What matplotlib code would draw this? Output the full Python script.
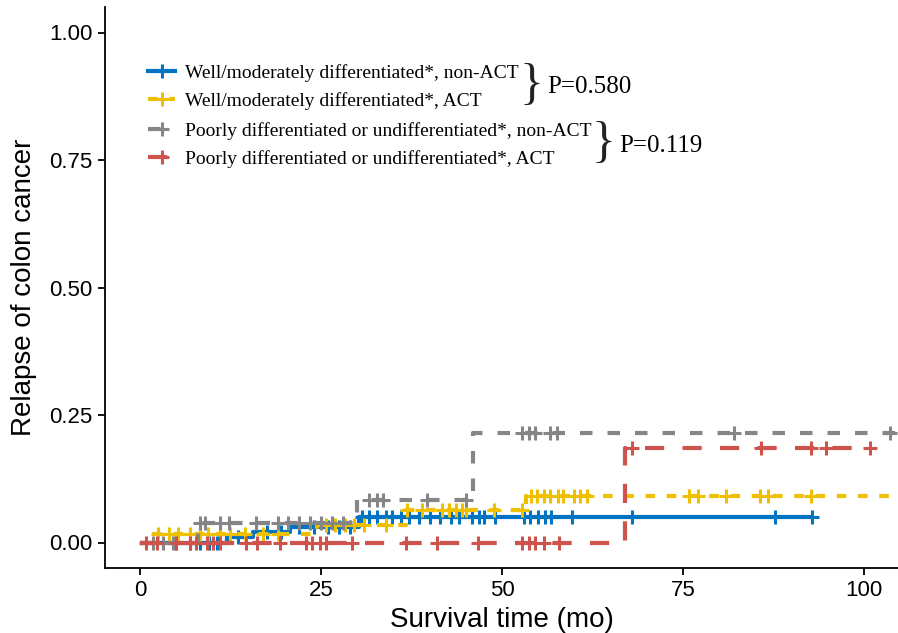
import numpy as np
import matplotlib.pyplot as plt
from matplotlib.lines import Line2D

# Kaplan-Meier style cumulative relapse curves (step start times and levels)
blue_times = [0, 12.0, 15.6, 20.7, 30.3]
blue_risk = [0, 0.011, 0.021, 0.030, 0.050]
blue_end = 92.8
blue_cens = [5.0, 6.9, 8.3, 9.6, 10.6, 13.5, 17.5, 19.5, 22.0, 24.0, 26.0, 27.5, 29.0,
             30.7, 31.7, 32.8, 34.0, 34.8, 36.1, 37.2, 38.5, 40.0, 41.5, 43.0, 44.1,
             45.9, 46.8, 47.5, 49.0, 53.0, 53.9, 55.0, 55.9, 56.8, 59.7, 67.9, 87.7, 92.8]

yellow_times = [0, 1.5, 24.5, 36.7, 53.3]
yellow_risk = [0, 0.017, 0.034, 0.063, 0.091]
yellow_end = 106
yellow_cens = [2.5, 4.0, 5.2, 6.9, 8.3, 9.4, 11.0, 12.5, 14.5, 17.0, 19.0, 25.7, 27.0,
               28.3, 29.5, 31.0, 34.0, 36.9, 39.0, 41.7, 42.7, 43.7, 44.5, 45.0, 48.9,
               52.8, 54.0, 54.9, 55.8, 56.7, 57.7, 58.4, 59.9, 60.8, 61.8, 75.9, 77.1,
               81.0, 85.7, 86.8, 92.7]

gray_times = [0, 8.0, 30.0, 46.0]
gray_risk = [0, 0.038, 0.084, 0.215]
gray_end = 106
gray_cens = [1.8, 3.2, 4.5, 8.3, 9.0, 11.0, 12.3, 16.0, 19.0, 20.5, 22.0, 23.5, 25.0,
             26.5, 28.0, 31.7, 32.8, 33.5, 39.7, 45.0, 52.7, 53.7, 54.6, 56.7, 57.6,
             82.0, 103.6]

red_times = [0, 67.0]
red_risk = [0, 0.186]
red_end = 100.8
red_cens = [0.9, 2.3, 5.0, 6.9, 7.8, 9.2, 10.1, 11.0, 14.7, 16.1, 19.3, 23.0, 23.8,
            24.8, 25.7, 29.3, 36.7, 41.0, 46.7, 52.7, 53.7, 54.6, 55.8, 57.9, 68.0,
            85.8, 92.7, 94.8, 100.8]

labels = [
    "Well/moderately differentiated*, non-ACT",
    "Well/moderately differentiated*, ACT",
    "Poorly differentiated or undifferentiated*, non-ACT",
    "Poorly differentiated or undifferentiated*, ACT",
]
p_values = ["P=0.580", "P=0.119"]

colors = ["#0073C2", "#EFC000", "#868686", "#CD534C"]
dashes = [None, (2.3, 2.8), (3.0, 3.6), (4.6, 4.4)]

curves = [
    (blue_times, blue_risk, blue_end, blue_cens),
    (yellow_times, yellow_risk, yellow_end, yellow_cens),
    (gray_times, gray_risk, gray_end, gray_cens),
    (red_times, red_risk, red_end, red_cens),
]

fig = plt.figure(figsize=(8.98, 6.33), dpi=100)
ax = fig.add_axes([105 / 898, 65 / 633, 793 / 898, 561 / 633])

LW = 3.0
handles = []
for (t, r, end, cens), c, d, lab in zip(curves, colors, dashes, labels):
    xs = list(t) + [end]
    ys = list(r) + [r[-1]]
    kw = dict(color=c, lw=LW, solid_capstyle="butt", dash_capstyle="butt")
    line, = ax.step(xs, ys, where="post", **kw)
    if d is not None:
        line.set_dashes(d)
    idx = np.searchsorted(t, cens, side="right") - 1
    cy = np.asarray(r)[idx]
    ax.plot(cens, cy, ls="none", marker="+", ms=10, mew=2.2, color=c)
    h = Line2D([], [], color=c, lw=LW, marker="+", ms=10, mew=2.2)
    if d is not None:
        h.set_dashes(d)
    handles.append((h, lab))

ax.set_xlim(-4.83, 104.7)
ax.set_ylim(-0.05, 1.05)
ax.set_xticks([0, 25, 50, 75, 100])
ax.set_yticks([0, 0.25, 0.5, 0.75, 1.0])
ax.set_yticklabels(["0.00", "0.25", "0.50", "0.75", "1.00"])
for s in ["top", "right"]:
    ax.spines[s].set_visible(False)
for s in ["left", "bottom"]:
    ax.spines[s].set_linewidth(1.3)
ax.tick_params(length=5, width=1.3, labelsize=16, pad=4, colors="black")
for lab in ax.get_xticklabels() + ax.get_yticklabels():
    lab.set_fontfamily("Liberation Sans")
ax.set_xlabel("Survival time (mo)", fontsize=20, family="Liberation Sans", labelpad=4)
ax.set_ylabel("Relapse of colon cancer", fontsize=20, family="Liberation Sans", labelpad=9)

leg_kw = dict(frameon=False, prop={"family": "Liberation Serif", "size": 14},
              handlelength=1.4, handletextpad=0.5, labelspacing=0.5, borderpad=0,
              borderaxespad=0, loc="center left")
leg1 = ax.legend([h for h, _ in handles[:2]], [l for _, l in handles[:2]],
                 bbox_to_anchor=(148 / 898, 1 - 87 / 633), bbox_transform=fig.transFigure, **leg_kw)
ax.add_artist(leg1)
ax.legend([h for h, _ in handles[2:]], [l for _, l in handles[2:]],
          bbox_to_anchor=(148 / 898, 1 - 145 / 633), bbox_transform=fig.transFigure, **leg_kw)

fig.text(532 / 898, 1 - 86 / 633, "}", fontsize=36, family="Liberation Serif",
         ha="center", va="center", color="#222222")
fig.text(547 / 898, 1 - 87 / 633, p_values[0], fontsize=18, family="Liberation Serif",
         ha="left", va="center")
fig.text(603 / 898, 1 - 144 / 633, "}", fontsize=36, family="Liberation Serif",
         ha="center", va="center", color="#222222")
fig.text(619 / 898, 1 - 146 / 633, p_values[1], fontsize=18, family="Liberation Serif",
         ha="left", va="center")

fig.savefig("out.png", dpi=100)
